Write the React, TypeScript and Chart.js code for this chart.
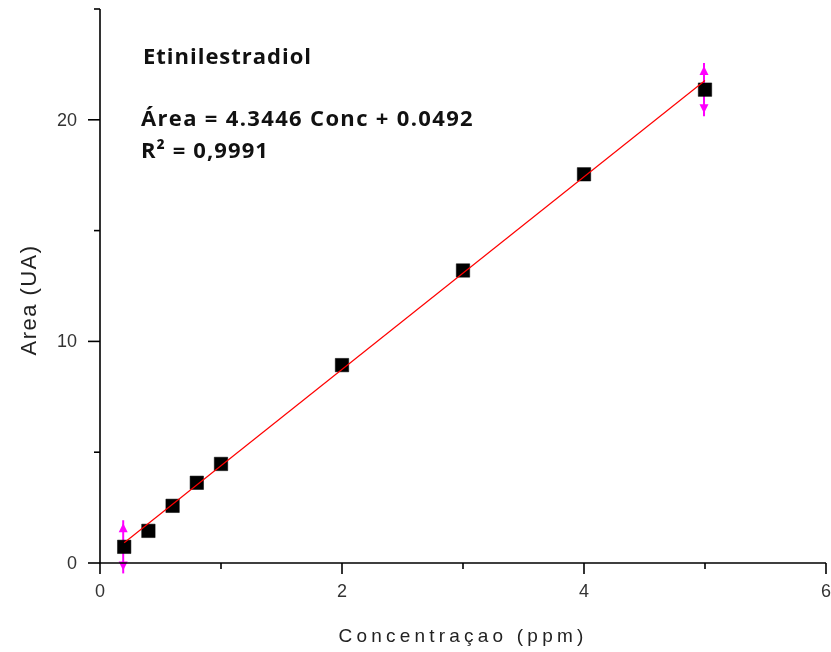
import { useEffect, useRef } from 'react';
import { Chart, registerables } from 'chart.js';

Chart.register(...registerables);

const concentrations = [0.2, 0.4, 0.6, 0.8, 1, 2, 3, 4, 5];
const areas = [0.73, 1.45, 2.58, 3.62, 4.47, 8.93, 13.2, 17.54, 21.36];
const errorBars = [1.2, 0, 0, 0, 0, 0, 0, 0, 1.2];
const fitX = [0.2, 5];
const fitY = [0.918, 21.77];
const xTickValues = [0, 1, 2, 3, 4, 5, 6];
const xTickLabels = ['0', '', '2', '', '4', '', '6'];
const yTickValues = [0, 5, 10, 15, 20, 25];
const yTickLabels = ['0', '', '10', '', '20', ''];
const compoundName = 'Etinilestradiol';
const equationText = 'Área = 4.3446 Conc + 0.0492';
const r2Text = 'R² = 0,9991';
const xTitle = 'Concentraçao (ppm)';
const yTitle = 'Area (UA)';

function fitText(ctx: any, text: string, x: number, y: number, width: number, align: string) {
  ctx.letterSpacing = '0px';
  const w = ctx.measureText(text).width;
  const n = Array.from(text).length;
  const sp = (width - w) / n;
  ctx.letterSpacing = sp + 'px';
  ctx.textAlign = 'left';
  const start = align === 'center' ? x - width / 2 : x;
  ctx.fillText(text, start, y);
  ctx.letterSpacing = '0px';
}

const customPlugin = {
  id: 'custom',
  beforeDatasetsDraw(chart: any) {
    const ctx = chart.ctx;
    const xs = chart.scales.x;
    const ys = chart.scales.y;
    ctx.save();
    ctx.strokeStyle = '#ff00ff';
    ctx.fillStyle = '#ff00ff';
    ctx.lineWidth = 2;
    concentrations.forEach((c, i) => {
      const e = errorBars[i];
      if (!e) return;
      const px = xs.getPixelForValue(c) - 1;
      const top = ys.getPixelForValue(areas[i] + e);
      const bot = ys.getPixelForValue(areas[i] - e);
      ctx.beginPath();
      ctx.moveTo(px, top);
      ctx.lineTo(px, bot);
      ctx.stroke();
      ctx.beginPath();
      ctx.moveTo(px, top + 3);
      ctx.lineTo(px - 4.5, top + 12);
      ctx.lineTo(px + 4.5, top + 12);
      ctx.closePath();
      ctx.fill();
      ctx.beginPath();
      ctx.moveTo(px, bot - 3);
      ctx.lineTo(px - 4.5, bot - 12);
      ctx.lineTo(px + 4.5, bot - 12);
      ctx.closePath();
      ctx.fill();
    });
    ctx.restore();
  },
  afterDraw(chart: any) {
    const ctx = chart.ctx;
    const xs = chart.scales.x;
    const ys = chart.scales.y;
    const ca = chart.chartArea;
    ctx.save();
    ctx.strokeStyle = '#000';
    ctx.lineWidth = 1.6;
    ctx.beginPath();
    ctx.moveTo(ca.left, ca.top);
    ctx.lineTo(ca.left, ca.bottom);
    ctx.lineTo(ca.right, ca.bottom);
    ctx.stroke();
    xTickValues.forEach((v, i) => {
      const px = xs.getPixelForValue(v);
      const len = xTickLabels[i] ? 11 : 6;
      ctx.beginPath();
      ctx.moveTo(px, ca.bottom);
      ctx.lineTo(px, ca.bottom + len);
      ctx.stroke();
    });
    yTickValues.forEach((v, i) => {
      const py = ys.getPixelForValue(v);
      const len = yTickLabels[i] ? 12 : 6;
      ctx.beginPath();
      ctx.moveTo(ca.left, py);
      ctx.lineTo(ca.left - len, py);
      ctx.stroke();
    });
    ctx.fillStyle = '#333';
    ctx.font = '18px "Liberation Sans", Arial, sans-serif';
    ctx.textAlign = 'center';
    ctx.textBaseline = 'middle';
    xTickValues.forEach((v, i) => {
      if (!xTickLabels[i]) return;
      ctx.fillText(xTickLabels[i], xs.getPixelForValue(v), ca.bottom + 29);
    });
    ctx.textAlign = 'right';
    yTickValues.forEach((v, i) => {
      if (!yTickLabels[i]) return;
      ctx.fillText(yTickLabels[i], ca.left - 23, ys.getPixelForValue(v) + 1);
    });
    ctx.fillStyle = '#222';
    ctx.font = '19px "Liberation Sans", Arial, sans-serif';
    fitText(ctx, xTitle, 463, 637, 249, 'center');
    ctx.font = '22px "Liberation Sans", Arial, sans-serif';
    ctx.translate(30, 300);
    ctx.rotate(-Math.PI / 2);
    fitText(ctx, yTitle, 0, 0, 111, 'center');
    ctx.setTransform(1, 0, 0, 1, 0, 0);
    ctx.fillStyle = '#111';
    ctx.font = 'bold 22px "Open Sans", Lato, sans-serif';
    fitText(ctx, compoundName, 143, 58, 169, 'left');
    ctx.font = 'bold 22px "Open Sans", Lato, sans-serif';
    fitText(ctx, equationText, 141, 120, 333, 'left');
    fitText(ctx, r2Text, 141, 152, 128, 'left');
    ctx.restore();
  },
};

export default function App() {
  const ref = useRef<HTMLCanvasElement>(null);
  useEffect(() => {
    document.body.style.margin = '0';
    const chart = new Chart(ref.current!, {
      type: 'scatter',
      data: {
        datasets: [
          {
            type: 'line',
            data: fitX.map((x, i) => ({ x, y: fitY[i] })),
            borderColor: '#ff0000',
            borderWidth: 1.2,
            pointRadius: 0,
            fill: false,
          },
          {
            type: 'scatter',
            data: concentrations.map((x, i) => ({ x, y: areas[i] })),
            pointStyle: 'rect',
            pointRadius: 9.5,
            backgroundColor: '#000',
            borderColor: '#000',
            borderWidth: 0.5,
          },
        ],
      },
      plugins: [customPlugin],
      options: {
        responsive: false,
        animation: false,
        layout: { autoPadding: false, padding: { top: 9, right: 5, left: 0, bottom: 0 } },
        plugins: { legend: { display: false }, tooltip: { enabled: false } },
        scales: {
          x: {
            type: 'linear',
            min: 0,
            max: 6,
            ticks: { display: false, stepSize: 1 },
            grid: { display: false },
            border: { display: false },
            afterFit: (s: any) => { s.height = 89; },
          },
          y: {
            type: 'linear',
            min: 0,
            max: 25,
            ticks: { display: false, stepSize: 5 },
            grid: { display: false },
            border: { display: false },
            afterFit: (s: any) => { s.width = 100; },
          },
        },
      },
    } as any);
    return () => chart.destroy();
  }, []);
  return (
    <div style={{ width: 831, height: 652, background: '#fff' }}>
      <canvas ref={ref} width={831} height={652} />
    </div>
  );
}
